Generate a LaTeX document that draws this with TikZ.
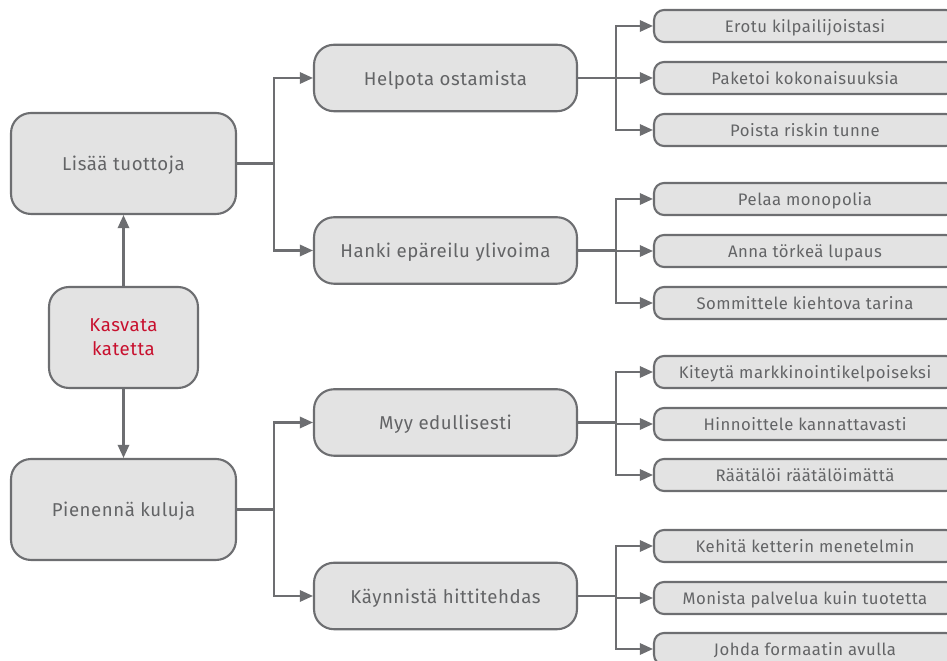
\documentclass[tikz,border=0pt]{standalone}
\usepackage{fontspec}
\setmainfont{Fira Sans}[LetterSpace=3]
\usepackage{xcolor}
\usepackage{tikz}
\usetikzlibrary{arrows.meta}
\definecolor{boxgray}{HTML}{E3E3E3}
\definecolor{linegray}{HTML}{6D6E71}
\definecolor{txtgray}{HTML}{636466}
\definecolor{katered}{HTML}{C8102E}

\begin{document}
\begin{tikzpicture}[x=0.02cm,y=-0.02cm,inner sep=0pt]
    \tikzstyle{main}=[rectangle,rounded corners=0.4cm,draw=linegray,fill=boxgray,line width=1.2pt,
        text=txtgray,font=\fontsize{10.6}{13.6}\selectfont,minimum width=4.5cm,minimum height=2.02cm,
        text depth=0pt]
    \tikzstyle{mid}=[main,minimum width=5.26cm,minimum height=1.33cm]
    \tikzstyle{leaf}=[main,rounded corners=0.2cm,minimum width=6.04cm,minimum height=0.64cm,
        font=\fontsize{9.5}{11}\selectfont]
    \tikzstyle{conn}=[draw=linegray,line width=1.2pt]
    \tikzstyle{arr}=[conn,-{Triangle[length=7.5pt,width=6.5pt]}]

    \useasboundingbox (0,0) rectangle (947,661);
    \clip (0,0) rectangle (947,661);

    \node[main,minimum width=2.98cm,text depth=] (kasvata) at (123.5,337.5) {\parbox{2.5cm}{\centering\color{katered}Kasvata\\katetta}};
    \node[main] (lisaa) at (123.5,163.5) {Lisää tuottoja};
    \node[main] (pienenna) at (123.5,509.5) {Pienennä kuluja};

    \draw[arr] (kasvata) -- (lisaa);
    \draw[arr] (kasvata) -- (pienenna);

    \node[mid] (helpota) at (445.5,78) {Helpota ostamista};
    \node[mid] (hanki) at (445.5,250.5) {Hanki epäreilu ylivoima};
    \node[mid] (myy) at (445.5,422.5) {Myy edullisesti};
    \node[mid] (kaynnista) at (445.5,596) {Käynnistä hittitehdas};

    \coordinate (b1) at (274,163.5);
    \coordinate (b2) at (274,509.5);
    \draw[conn] (lisaa.east) -- (b1);
    \draw[arr] (b1) |- (helpota);
    \draw[arr] (b1) |- (hanki);
    \draw[conn] (pienenna.east) -- (b2);
    \draw[arr] (b2) |- (myy);
    \draw[arr] (b2) |- (kaynnista);

    % leaf boxes
    \foreach \y/\n/\t in {26/1/Erotu kilpailijoistasi,78/2/Paketoi kokonaisuuksia,130/3/Poista riskin tunne,
        199/4/Pelaa monopolia,251/5/Anna törkeä lupaus,303/6/Sommittele kiehtova tarina,
        372/7/Kiteytä markkinointikelpoiseksi,424/8/Hinnoittele kannattavasti,475/9/Räätälöi räätälöimättä,
        546/10/Kehitä ketterin menetelmin,598/11/Monista palvelua kuin tuotetta,649/12/Johda formaatin avulla} {
        \node[leaf] (r\n) at (805,\y) {\t};
    }

    \foreach \p/\a/\b/\c in {helpota/1/2/3,hanki/4/5/6,myy/7/8/9,kaynnista/10/11/12} {
        \coordinate (s\p) at ([xshift=0.76cm]\p.east);
        \draw[conn] (\p.east) -- (s\p);
        \draw[arr] (s\p) |- (r\a);
        \draw[arr] (s\p) |- (r\b);
        \draw[arr] (s\p) |- (r\c);
    };
\end{tikzpicture}
\end{document}
